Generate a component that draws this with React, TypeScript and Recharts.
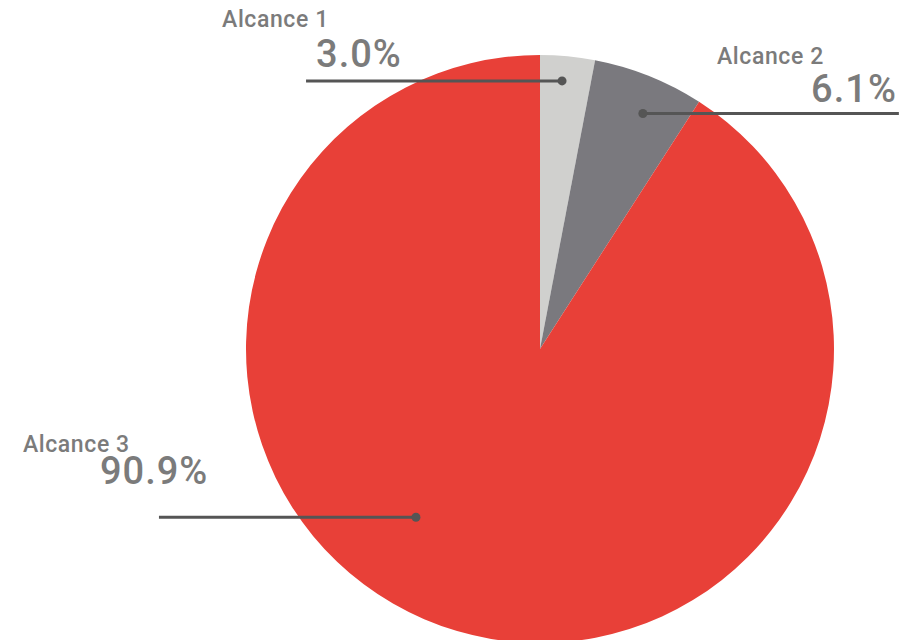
import { PieChart, Pie, Cell } from 'recharts'

const names = ['Alcance 1', 'Alcance 2', 'Alcance 3']
const values = [3.0, 6.1, 90.9]
const colors = ['#d0d0ce', '#7a797e', '#e84038']

// where each label's dot sits (degrees clockwise from top, fraction of radius)
// and where its texts go relative to the dot
const labelLayout = [
  { angle: 4.7, r: 0.915, lineDx: -256, anchor: 'start', nameDx: -340, nameDy: -54, pctDx: -246, pctDy: -14 },
  { angle: 23.6, r: 0.874, lineDx: 256, anchor: 'end', nameDx: 181, nameDy: -50, pctDx: 254, pctDy: -12 },
  { angle: 216.4, r: 0.711, lineDx: -257, anchor: 'start', nameDx: -393, nameDy: -65, pctDx: -316, pctDy: -33 },
]

const data = names.map((name, i) => ({ name, value: values[i] }))

const FONT = 'Roboto, "DejaVu Sans", sans-serif'

function renderLabel(props: any) {
  const { cx, cy, outerRadius, index } = props
  const l = labelLayout[index]
  const rad = (l.angle * Math.PI) / 180
  const x = cx + Math.sin(rad) * outerRadius * l.r
  const y = cy - Math.cos(rad) * outerRadius * l.r
  return (
    <g key={`lbl-${index}`}>
      <line x1={x} y1={y} x2={x + l.lineDx} y2={y} stroke="#555555" strokeWidth={3} />
      <circle cx={x} cy={y} r={4.5} fill="#555555" />
      <text x={x + l.nameDx} y={y + l.nameDy} textAnchor={l.anchor} fill="#7b7b7b" fontFamily={FONT} fontWeight={500} fontSize={23} letterSpacing={0.6}>
        {names[index]}
      </text>
      <text x={x + l.pctDx} y={y + l.pctDy} textAnchor={l.anchor} fill="#7b7b7b" fontFamily={FONT} fontWeight={500} fontSize={38} letterSpacing={1}>
        {values[index].toFixed(1)}%
      </text>
    </g>
  )
}

export default function App() {
  return (
    <div style={{ position: 'fixed', left: 0, top: 0, width: 914, height: 640, background: '#ffffff' }}>
      <PieChart width={914} height={640} margin={{ top: 0, right: 0, bottom: 0, left: 0 }}>
        <Pie
          data={data}
          dataKey="value"
          nameKey="name"
          cx={540}
          cy={349}
          outerRadius={294}
          startAngle={90}
          endAngle={-270}
          stroke="none"
          label={renderLabel}
          labelLine={false}
          isAnimationActive={false}
        >
          {data.map((d, i) => (
            <Cell key={d.name} fill={colors[i]} />
          ))}
        </Pie>
      </PieChart>
    </div>
  )
}
